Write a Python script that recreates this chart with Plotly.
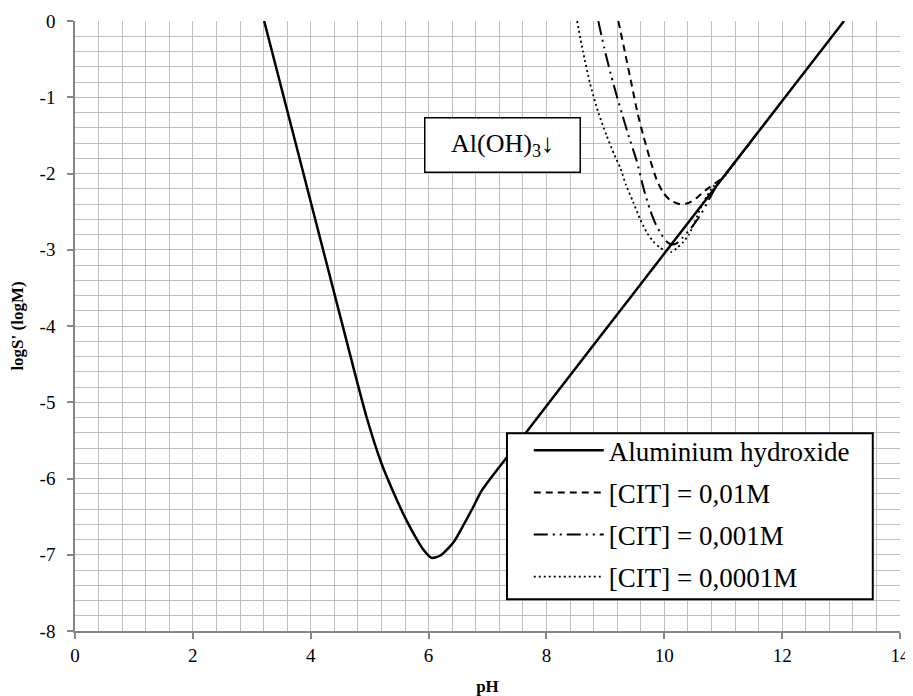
import plotly.graph_objects as go

# ---- data ----
al_ph = [3.21, 3.6, 4.0, 4.5, 4.95, 5.2, 5.46, 5.6, 5.75, 5.9, 6.05, 6.2, 6.42, 6.6,
         6.76, 6.9, 7.04, 7.2, 7.33, 8.0, 9.0, 10.0, 11.0, 12.0, 13.05]
al_logs = [0.0, -1.17, -2.37, -3.87, -5.2, -5.8, -6.28, -6.51, -6.73, -6.92, -7.04,
           -7.01, -6.84, -6.60, -6.37, -6.16, -6.01, -5.85, -5.72, -5.05, -4.05, -3.05,
           -2.05, -1.05, 0.0]

cit1_ph = [9.22, 9.33, 9.45, 9.55, 9.65, 9.76, 9.87, 9.98, 10.1, 10.25, 10.4, 10.55,
           10.7, 10.86, 11.0, 11.3, 11.65]
cit1_logs = [0.0, -0.4, -0.85, -1.22, -1.52, -1.82, -2.08, -2.25, -2.35, -2.40, -2.39,
             -2.32, -2.22, -2.13, -2.05, -1.75, -1.40]

cit2_ph = [8.88, 8.98, 9.1, 9.2, 9.28, 9.4, 9.53, 9.65, 9.76, 9.84, 9.95, 10.05, 10.13,
           10.2, 10.3, 10.45, 10.61, 10.78, 10.9, 11.2, 11.6]
cit2_logs = [0.0, -0.35, -0.72, -1.0, -1.21, -1.52, -1.83, -2.2, -2.48, -2.64, -2.80,
             -2.90, -2.93, -2.92, -2.85, -2.72, -2.55, -2.31, -2.15, -1.85, -1.45]

cit3_ph = [8.52, 8.62, 8.74, 8.88, 9.02, 9.15, 9.25, 9.35, 9.47, 9.59, 9.7, 9.81, 9.92,
           10.01, 10.12, 10.21, 10.32, 10.42, 10.52, 10.62, 10.72, 10.83, 11.0, 11.6]
cit3_logs = [0.0, -0.4, -0.82, -1.2, -1.5, -1.75, -1.92, -2.15, -2.37, -2.6, -2.77, -2.89,
             -2.97, -3.01, -3.03, -2.98, -2.9, -2.8, -2.63, -2.45, -2.3, -2.17, -2.05, -1.45]

names = ["Aluminium hydroxide", "[CIT] = 0,01M", "[CIT] = 0,001M", "[CIT] = 0,0001M"]

x_ticks = [0, 2, 4, 6, 8, 10, 12, 14]
y_ticks = [0, -1, -2, -3, -4, -5, -6, -7, -8]

FONT = "Liberation Serif"

fig = go.Figure()
fig.add_trace(go.Scatter(x=al_ph, y=al_logs, name=names[0], mode="lines", legendgroup="g0",
                         line=dict(color="black", width=2.5, shape="spline", smoothing=0.7)))
fig.add_trace(go.Scatter(x=cit1_ph, y=cit1_logs, name=names[1], mode="lines", legendgroup="g1",
                         line=dict(color="black", width=2, dash="7px,5px", shape="spline", smoothing=0.6)))
fig.add_trace(go.Scatter(x=cit2_ph, y=cit2_logs, name=names[2], mode="lines", legendgroup="g2",
                         line=dict(color="black", width=2, dash="14px,5px,2px,5px,2px,5px",
                                   shape="spline", smoothing=0.6)))
fig.add_trace(go.Scatter(x=cit3_ph, y=cit3_logs, name=names[3], mode="lines", legendgroup="g3",
                         line=dict(color="black", width=1.8, dash="2px,3px", shape="spline", smoothing=0.6)))

axis_common = dict(
    showline=True, linecolor="#868686", linewidth=1.5,
    ticks="outside", ticklen=6, tickcolor="#868686", tickwidth=1.5,
    showgrid=True, gridcolor="#BFBFBF", gridwidth=1.3,
    zeroline=False, automargin=False,
    tickfont=dict(family=FONT, size=19, color="black"),
)

fig.update_xaxes(range=[0, 14], tickvals=x_ticks, ticktext=[str(v) for v in x_ticks],
                 minor=dict(dtick=0.4, tick0=0, showgrid=True, gridcolor="#BFBFBF", gridwidth=1.3, ticks=""),
                 title=dict(text="<b>pH</b>", font=dict(family=FONT, size=17, color="black"), standoff=18),
                 **axis_common)
fig.update_yaxes(range=[-8, 0], tickvals=y_ticks, ticktext=[str(v) for v in y_ticks],
                 minor=dict(dtick=0.2, tick0=0, showgrid=True, gridcolor="#BFBFBF", gridwidth=1.3, ticks=""),
                 title=dict(text="<b>logS' (logM)</b>", font=dict(family=FONT, size=17, color="black"), standoff=12),
                 ticklabelstandoff=8,
                 **axis_common)

fig.add_annotation(x=7.26, y=-1.62, xref="x", yref="y",
                   text="Al(OH)<sub>3</sub>↓", showarrow=False,
                   font=dict(family=FONT, size=26, color="black"),
                   width=134, height=33,
                   bgcolor="white", bordercolor="black", borderwidth=1.5,
                   borderpad=10)

# legend frame (drawn as a box behind the transparent legend)
fig.add_shape(type="rect", xref="paper", yref="paper",
              x0=0.5236, x1=0.967, y0=0.052, y1=0.324,
              line=dict(color="black", width=2), fillcolor="white", layer="above")

fig.update_layout(
    width=905, height=688,
    margin=dict(l=67, r=13, t=13, b=65),
    paper_bgcolor="white", plot_bgcolor="white",
    font=dict(family=FONT, color="black"),
    showlegend=True,
    legend=dict(x=0.550, y=0.3356, xanchor="left", yanchor="top",
                bgcolor="rgba(0,0,0,0)", borderwidth=0,
                font=dict(family=FONT, size=27, color="black"),
                itemwidth=70, tracegroupgap=4),
)

fig.write_html("out.html")
